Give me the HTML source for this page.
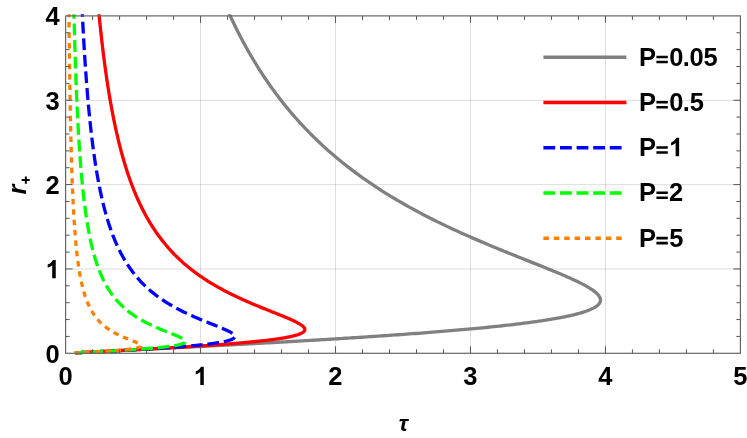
<!DOCTYPE html><html><head><meta charset="utf-8"><style>html,body{margin:0;padding:0;background:#fff}svg{display:block;will-change:transform;opacity:0.999}text{font-family:"Liberation Sans",sans-serif;font-weight:bold;fill:#000}</style></head><body>
<svg width="747" height="438" viewBox="0 0 747 438">
<rect width="747" height="438" fill="#fff"/>
<path d="M200.56 15.90 V353.30 M335.52 15.90 V353.30 M470.48 15.90 V353.30 M605.44 15.90 V353.30" stroke="#000" stroke-opacity="0.135" stroke-width="1" fill="none"/>
<path d="M65.60 268.95 H740.40 M65.60 184.60 H740.40 M65.60 100.40 H740.40" stroke="#000" stroke-opacity="0.135" stroke-width="1" fill="none"/>
<defs><clipPath id="c"><rect x="65.60" y="14.20" width="674.80" height="340.80"/></clipPath></defs>
<g clip-path="url(#c)" fill="none" stroke-width="3.3" stroke-linejoin="round">
<path d="M74.93 352.84 L75.03 352.83 L75.13 352.83 L75.24 352.82 L75.35 352.82 L75.45 352.81 L75.56 352.80 L75.67 352.80 L75.79 352.79 L75.90 352.79 L76.01 352.78 L76.13 352.78 L76.24 352.77 L76.36 352.76 L76.48 352.76 L76.60 352.75 L76.72 352.75 L76.85 352.74 L76.97 352.73 L77.10 352.73 L77.22 352.72 L77.35 352.72 L77.48 352.71 L77.61 352.70 L77.75 352.70 L77.88 352.69 L78.02 352.68 L78.15 352.68 L78.29 352.67 L78.43 352.66 L78.58 352.65 L78.72 352.65 L78.86 352.64 L79.01 352.63 L79.16 352.63 L79.31 352.62 L79.46 352.61 L79.61 352.60 L79.77 352.60 L79.93 352.59 L80.08 352.58 L80.24 352.57 L80.41 352.56 L80.57 352.56 L80.74 352.55 L80.90 352.54 L81.07 352.53 L81.24 352.52 L81.42 352.51 L81.59 352.50 L81.77 352.50 L81.95 352.49 L82.13 352.48 L82.31 352.47 L82.50 352.46 L82.68 352.45 L82.87 352.44 L83.06 352.43 L83.26 352.42 L83.45 352.41 L83.65 352.40 L83.85 352.39 L84.05 352.38 L84.26 352.37 L84.46 352.36 L84.67 352.35 L84.88 352.34 L85.09 352.33 L85.31 352.32 L85.53 352.31 L85.75 352.30 L85.97 352.29 L86.20 352.28 L86.42 352.26 L86.65 352.25 L86.89 352.24 L87.12 352.23 L87.36 352.22 L87.60 352.21 L87.84 352.19 L88.09 352.18 L88.34 352.17 L88.59 352.16 L88.85 352.14 L89.10 352.13 L89.36 352.12 L89.62 352.10 L89.89 352.09 L90.16 352.08 L90.43 352.06 L90.71 352.05 L90.98 352.04 L91.26 352.02 L91.55 352.01 L91.83 351.99 L92.12 351.98 L92.42 351.97 L92.71 351.95 L93.01 351.94 L93.32 351.92 L93.62 351.91 L93.93 351.89 L94.25 351.87 L94.56 351.86 L94.88 351.84 L95.21 351.83 L95.53 351.81 L95.86 351.79 L96.20 351.78 L96.54 351.76 L96.88 351.74 L97.22 351.73 L97.57 351.71 L97.93 351.69 L98.28 351.67 L98.64 351.65 L99.01 351.64 L99.38 351.62 L99.75 351.60 L100.13 351.58 L100.51 351.56 L100.90 351.54 L101.29 351.52 L101.68 351.50 L102.08 351.48 L102.48 351.46 L102.89 351.44 L103.30 351.42 L103.72 351.40 L104.14 351.38 L104.56 351.36 L104.99 351.34 L105.43 351.32 L105.87 351.29 L106.31 351.27 L106.76 351.25 L107.21 351.23 L107.67 351.20 L108.14 351.18 L108.61 351.16 L109.08 351.13 L109.56 351.11 L110.05 351.09 L110.54 351.06 L111.03 351.04 L111.53 351.01 L112.04 350.99 L112.55 350.96 L113.07 350.93 L113.59 350.91 L114.12 350.88 L114.65 350.86 L115.20 350.83 L115.74 350.80 L116.29 350.77 L116.85 350.75 L117.42 350.72 L117.99 350.69 L118.57 350.66 L119.15 350.63 L119.74 350.60 L120.33 350.57 L120.94 350.54 L121.55 350.51 L122.16 350.48 L122.78 350.45 L123.41 350.42 L124.05 350.38 L124.69 350.35 L125.34 350.32 L126.00 350.29 L126.66 350.25 L127.33 350.22 L128.01 350.19 L128.70 350.15 L129.39 350.12 L130.09 350.08 L130.80 350.04 L131.52 350.01 L132.24 349.97 L132.97 349.94 L133.71 349.90 L134.46 349.86 L135.22 349.82 L135.98 349.78 L136.75 349.75 L137.53 349.71 L138.32 349.67 L139.12 349.63 L139.93 349.59 L140.74 349.54 L141.56 349.50 L142.40 349.46 L143.24 349.42 L144.09 349.38 L144.95 349.33 L145.81 349.29 L146.69 349.24 L147.58 349.20 L148.47 349.15 L149.38 349.11 L150.30 349.06 L151.22 349.01 L152.16 348.97 L153.10 348.92 L154.06 348.87 L155.02 348.82 L156.00 348.77 L156.98 348.72 L157.98 348.67 L158.99 348.62 L160.00 348.57 L161.03 348.52 L162.07 348.46 L163.12 348.41 L164.18 348.35 L165.25 348.30 L166.34 348.24 L167.43 348.19 L168.54 348.13 L169.66 348.07 L170.79 348.02 L171.93 347.96 L173.08 347.90 L174.24 347.84 L175.42 347.78 L176.61 347.72 L177.81 347.66 L179.03 347.59 L180.25 347.53 L181.49 347.47 L182.74 347.40 L184.01 347.34 L185.29 347.27 L186.58 347.20 L187.88 347.14 L189.20 347.07 L190.53 347.00 L191.87 346.93 L193.23 346.86 L194.60 346.79 L195.98 346.72 L197.38 346.64 L198.80 346.57 L200.22 346.49 L201.66 346.42 L203.12 346.34 L204.59 346.27 L206.07 346.19 L207.57 346.11 L209.09 346.03 L210.62 345.95 L212.16 345.87 L213.72 345.79 L215.29 345.70 L216.88 345.62 L218.49 345.53 L220.11 345.45 L221.74 345.36 L223.40 345.27 L225.06 345.18 L226.75 345.09 L228.45 345.00 L230.16 344.91 L231.89 344.82 L233.64 344.73 L235.40 344.63 L237.19 344.53 L238.98 344.44 L240.80 344.34 L242.63 344.24 L244.47 344.14 L246.34 344.04 L248.22 343.94 L250.12 343.83 L252.03 343.73 L253.96 343.62 L255.91 343.51 L257.88 343.41 L259.86 343.30 L261.86 343.19 L263.88 343.07 L265.92 342.96 L267.97 342.85 L270.04 342.73 L272.13 342.61 L274.23 342.50 L276.36 342.38 L278.50 342.25 L280.66 342.13 L282.83 342.01 L285.03 341.88 L287.24 341.76 L289.47 341.63 L291.71 341.50 L293.98 341.37 L296.26 341.24 L298.56 341.10 L300.88 340.97 L303.21 340.83 L305.56 340.70 L307.93 340.56 L310.32 340.41 L312.72 340.27 L315.14 340.13 L317.58 339.98 L320.04 339.83 L322.51 339.69 L325.00 339.54 L327.50 339.38 L330.02 339.23 L332.56 339.07 L335.12 338.92 L337.69 338.76 L340.27 338.60 L342.88 338.43 L345.49 338.27 L348.13 338.10 L350.77 337.93 L353.44 337.76 L356.12 337.59 L358.81 337.42 L361.51 337.24 L364.23 337.06 L366.97 336.88 L369.72 336.70 L372.48 336.52 L375.25 336.33 L378.03 336.15 L380.83 335.96 L383.64 335.76 L386.46 335.57 L389.29 335.37 L392.13 335.17 L394.98 334.97 L397.85 334.77 L400.72 334.57 L403.60 334.36 L406.48 334.15 L409.38 333.94 L412.28 333.72 L415.19 333.51 L418.11 333.29 L421.03 333.07 L423.95 332.84 L426.88 332.62 L429.82 332.39 L432.75 332.16 L435.69 331.92 L438.64 331.68 L441.58 331.45 L444.52 331.20 L447.47 330.96 L450.41 330.71 L453.35 330.46 L456.29 330.21 L459.22 329.95 L462.16 329.69 L465.08 329.43 L468.00 329.17 L470.92 328.90 L473.83 328.63 L476.72 328.36 L479.62 328.08 L482.50 327.80 L485.36 327.52 L488.22 327.24 L491.07 326.95 L493.90 326.66 L496.71 326.36 L499.52 326.06 L502.30 325.76 L505.07 325.46 L507.81 325.15 L510.54 324.84 L513.25 324.52 L515.94 324.20 L518.60 323.88 L521.24 323.56 L523.85 323.23 L526.44 322.89 L529.00 322.56 L531.54 322.22 L534.04 321.87 L536.51 321.53 L538.96 321.17 L541.37 320.82 L543.74 320.46 L546.08 320.10 L548.39 319.73 L550.66 319.36 L552.89 318.98 L555.08 318.60 L557.23 318.22 L559.35 317.83 L561.41 317.44 L563.44 317.04 L565.42 316.64 L567.36 316.23 L569.25 315.82 L571.09 315.41 L572.89 314.99 L574.63 314.56 L576.33 314.14 L577.97 313.70 L579.57 313.26 L581.11 312.82 L582.59 312.37 L584.03 311.92 L585.40 311.46 L586.72 311.00 L587.99 310.53 L589.20 310.06 L590.34 309.58 L591.43 309.09 L592.47 308.60 L593.44 308.11 L594.35 307.61 L595.20 307.10 L595.98 306.59 L596.71 306.08 L597.37 305.55 L597.97 305.02 L598.51 304.49 L598.98 303.95 L599.39 303.40 L599.73 302.85 L600.01 302.29 L600.23 301.73 L600.38 301.16 L600.47 300.58 L600.49 300.00 L600.45 299.41 L600.34 298.81 L600.17 298.21 L599.93 297.60 L599.63 296.98 L599.26 296.36 L598.83 295.73 L598.34 295.09 L597.78 294.45 L597.16 293.80 L596.48 293.14 L595.73 292.47 L594.93 291.80 L594.06 291.12 L593.13 290.43 L592.14 289.73 L591.09 289.03 L589.98 288.32 L588.81 287.60 L587.58 286.87 L586.30 286.14 L584.96 285.39 L583.56 284.64 L582.11 283.88 L580.61 283.11 L579.05 282.34 L577.44 281.55 L575.78 280.76 L574.07 279.95 L572.31 279.14 L570.50 278.32 L568.64 277.49 L566.73 276.65 L564.78 275.80 L562.78 274.95 L560.74 274.08 L558.66 273.20 L556.54 272.32 L554.37 271.42 L552.17 270.51 L549.92 269.60 L547.64 268.67 L545.32 267.73 L542.97 266.79 L540.58 265.83 L538.16 264.86 L535.71 263.88 L533.23 262.89 L530.71 261.89 L528.17 260.88 L525.60 259.86 L523.00 258.82 L520.38 257.78 L517.73 256.72 L515.06 255.65 L512.37 254.57 L509.65 253.48 L506.92 252.37 L504.17 251.26 L501.39 250.13 L498.60 248.99 L495.80 247.83 L492.98 246.66 L490.14 245.48 L487.29 244.29 L484.43 243.08 L481.56 241.86 L478.67 240.63 L475.78 239.38 L472.88 238.12 L469.97 236.85 L467.05 235.56 L464.13 234.26 L461.20 232.94 L458.27 231.61 L455.33 230.26 L452.39 228.90 L449.45 227.52 L446.51 226.13 L443.56 224.72 L440.62 223.30 L437.68 221.86 L434.73 220.41 L431.80 218.93 L428.86 217.45 L425.93 215.94 L423.00 214.42 L420.07 212.89 L417.15 211.33 L414.24 209.76 L411.33 208.17 L408.43 206.57 L405.54 204.94 L402.65 203.30 L399.78 201.64 L396.91 199.96 L394.05 198.26 L391.20 196.55 L388.37 194.81 L385.54 193.06 L382.72 191.29 L379.92 189.49 L377.12 187.68 L374.34 185.85 L371.57 183.99 L368.82 182.12 L366.07 180.23 L363.35 178.31 L360.63 176.37 L357.93 174.41 L355.24 172.43 L352.57 170.43 L349.91 168.41 L347.27 166.36 L344.64 164.29 L342.03 162.20 L339.43 160.09 L336.85 157.95 L334.28 155.79 L331.73 153.60 L329.20 151.39 L326.68 149.16 L324.18 146.90 L321.70 144.61 L319.23 142.30 L316.78 139.97 L314.35 137.61 L311.94 135.22 L309.54 132.80 L307.16 130.36 L304.79 127.90 L302.45 125.40 L300.12 122.88 L297.81 120.33 L295.51 117.75 L293.24 115.14 L290.98 112.51 L288.74 109.84 L286.52 107.15 L284.31 104.42 L282.12 101.67 L279.95 98.88 L277.80 96.07 L275.66 93.22 L273.55 90.34 L271.45 87.43 L269.36 84.49 L267.30 81.52 L265.25 78.51 L263.22 75.47 L261.21 72.39 L259.21 69.28 L257.23 66.14 L255.27 62.96 L253.33 59.75 L251.40 56.50 L249.49 53.21 L247.60 49.89 L245.73 46.53 L243.87 43.14 L242.03 39.71 L240.20 36.23 L238.39 32.73 L236.60 29.18 L234.83 25.59 L233.07 21.96 L231.33 18.30 L229.60 14.59 L227.89 10.84" stroke="#808080"/>
<path d="M74.92 352.84 L75.03 352.83 L75.13 352.83 L75.24 352.82 L75.34 352.82 L75.45 352.81 L75.56 352.80 L75.67 352.80 L75.78 352.79 L75.89 352.79 L76.01 352.78 L76.12 352.78 L76.24 352.77 L76.36 352.76 L76.48 352.76 L76.60 352.75 L76.72 352.75 L76.84 352.74 L76.97 352.73 L77.09 352.73 L77.22 352.72 L77.35 352.72 L77.48 352.71 L77.61 352.70 L77.74 352.70 L77.87 352.69 L78.01 352.68 L78.15 352.68 L78.29 352.67 L78.43 352.66 L78.57 352.65 L78.71 352.65 L78.86 352.64 L79.00 352.63 L79.15 352.63 L79.30 352.62 L79.45 352.61 L79.60 352.60 L79.76 352.60 L79.92 352.59 L80.07 352.58 L80.23 352.57 L80.40 352.56 L80.56 352.56 L80.72 352.55 L80.89 352.54 L81.06 352.53 L81.23 352.52 L81.40 352.51 L81.58 352.50 L81.75 352.50 L81.93 352.49 L82.11 352.48 L82.30 352.47 L82.48 352.46 L82.67 352.45 L82.85 352.44 L83.05 352.43 L83.24 352.42 L83.43 352.41 L83.63 352.40 L83.83 352.39 L84.03 352.38 L84.23 352.37 L84.44 352.36 L84.65 352.35 L84.86 352.34 L85.07 352.33 L85.28 352.32 L85.50 352.31 L85.72 352.30 L85.94 352.29 L86.17 352.28 L86.39 352.26 L86.62 352.25 L86.85 352.24 L87.09 352.23 L87.33 352.22 L87.56 352.21 L87.81 352.19 L88.05 352.18 L88.30 352.17 L88.55 352.16 L88.80 352.14 L89.06 352.13 L89.32 352.12 L89.58 352.10 L89.84 352.09 L90.11 352.08 L90.38 352.06 L90.65 352.05 L90.93 352.04 L91.20 352.02 L91.49 352.01 L91.77 351.99 L92.06 351.98 L92.35 351.97 L92.64 351.95 L92.94 351.94 L93.24 351.92 L93.55 351.91 L93.85 351.89 L94.16 351.87 L94.48 351.86 L94.79 351.84 L95.12 351.83 L95.44 351.81 L95.77 351.79 L96.10 351.78 L96.43 351.76 L96.77 351.74 L97.11 351.73 L97.46 351.71 L97.81 351.69 L98.16 351.67 L98.52 351.65 L98.88 351.64 L99.24 351.62 L99.61 351.60 L99.99 351.58 L100.36 351.56 L100.74 351.54 L101.13 351.52 L101.52 351.50 L101.91 351.48 L102.31 351.46 L102.71 351.44 L103.11 351.42 L103.52 351.40 L103.94 351.38 L104.36 351.36 L104.78 351.34 L105.21 351.32 L105.64 351.29 L106.08 351.27 L106.52 351.25 L106.96 351.23 L107.41 351.20 L107.87 351.18 L108.33 351.16 L108.79 351.13 L109.26 351.11 L109.74 351.09 L110.22 351.06 L110.70 351.04 L111.20 351.01 L111.69 350.99 L112.19 350.96 L112.70 350.93 L113.21 350.91 L113.72 350.88 L114.24 350.86 L114.77 350.83 L115.30 350.80 L115.84 350.77 L116.39 350.75 L116.93 350.72 L117.49 350.69 L118.05 350.66 L118.62 350.63 L119.19 350.60 L119.77 350.57 L120.35 350.54 L120.94 350.51 L121.53 350.48 L122.14 350.45 L122.74 350.42 L123.36 350.38 L123.98 350.35 L124.60 350.32 L125.24 350.29 L125.88 350.25 L126.52 350.22 L127.17 350.19 L127.83 350.15 L128.50 350.12 L129.17 350.08 L129.84 350.04 L130.53 350.01 L131.22 349.97 L131.92 349.94 L132.62 349.90 L133.33 349.86 L134.05 349.82 L134.78 349.78 L135.51 349.75 L136.25 349.71 L137.00 349.67 L137.75 349.63 L138.51 349.59 L139.28 349.54 L140.05 349.50 L140.84 349.46 L141.63 349.42 L142.42 349.38 L143.23 349.33 L144.04 349.29 L144.86 349.24 L145.69 349.20 L146.52 349.15 L147.36 349.11 L148.21 349.06 L149.07 349.01 L149.93 348.97 L150.81 348.92 L151.69 348.87 L152.57 348.82 L153.47 348.77 L154.37 348.72 L155.28 348.67 L156.20 348.62 L157.13 348.57 L158.07 348.52 L159.01 348.46 L159.96 348.41 L160.92 348.35 L161.88 348.30 L162.86 348.24 L163.84 348.19 L164.83 348.13 L165.83 348.07 L166.83 348.02 L167.85 347.96 L168.87 347.90 L169.90 347.84 L170.93 347.78 L171.98 347.72 L173.03 347.66 L174.09 347.59 L175.16 347.53 L176.24 347.47 L177.32 347.40 L178.41 347.34 L179.51 347.27 L180.62 347.20 L181.73 347.14 L182.85 347.07 L183.98 347.00 L185.11 346.93 L186.26 346.86 L187.41 346.79 L188.57 346.72 L189.73 346.64 L190.90 346.57 L192.08 346.49 L193.26 346.42 L194.46 346.34 L195.65 346.27 L196.86 346.19 L198.07 346.11 L199.29 346.03 L200.51 345.95 L201.74 345.87 L202.97 345.79 L204.22 345.70 L205.46 345.62 L206.71 345.53 L207.97 345.45 L209.23 345.36 L210.50 345.27 L211.77 345.18 L213.05 345.09 L214.33 345.00 L215.61 344.91 L216.90 344.82 L218.19 344.73 L219.48 344.63 L220.78 344.53 L222.08 344.44 L223.39 344.34 L224.69 344.24 L226.00 344.14 L227.31 344.04 L228.63 343.94 L229.94 343.83 L231.26 343.73 L232.57 343.62 L233.89 343.51 L235.20 343.41 L236.52 343.30 L237.84 343.19 L239.15 343.07 L240.47 342.96 L241.78 342.85 L243.09 342.73 L244.40 342.61 L245.70 342.50 L247.01 342.38 L248.31 342.25 L249.60 342.13 L250.89 342.01 L252.18 341.88 L253.47 341.76 L254.74 341.63 L256.01 341.50 L257.28 341.37 L258.54 341.24 L259.79 341.10 L261.03 340.97 L262.27 340.83 L263.50 340.70 L264.72 340.56 L265.93 340.41 L267.13 340.27 L268.32 340.13 L269.50 339.98 L270.66 339.83 L271.82 339.69 L272.97 339.54 L274.10 339.38 L275.22 339.23 L276.32 339.07 L277.41 338.92 L278.49 338.76 L279.55 338.60 L280.59 338.43 L281.62 338.27 L282.64 338.10 L283.63 337.93 L284.61 337.76 L285.57 337.59 L286.51 337.42 L287.44 337.24 L288.34 337.06 L289.22 336.88 L290.09 336.70 L290.93 336.52 L291.75 336.33 L292.55 336.15 L293.33 335.96 L294.09 335.76 L294.82 335.57 L295.53 335.37 L296.22 335.17 L296.88 334.97 L297.52 334.77 L298.13 334.57 L298.72 334.36 L299.28 334.15 L299.82 333.94 L300.33 333.72 L300.81 333.51 L301.27 333.29 L301.70 333.07 L302.11 332.84 L302.48 332.62 L302.83 332.39 L303.15 332.16 L303.45 331.92 L303.71 331.68 L303.95 331.45 L304.16 331.20 L304.34 330.96 L304.49 330.71 L304.61 330.46 L304.70 330.21 L304.77 329.95 L304.80 329.69 L304.81 329.43 L304.79 329.17 L304.74 328.90 L304.66 328.63 L304.55 328.36 L304.41 328.08 L304.24 327.80 L304.05 327.52 L303.82 327.24 L303.57 326.95 L303.29 326.66 L302.98 326.36 L302.64 326.06 L302.28 325.76 L301.89 325.46 L301.47 325.15 L301.02 324.84 L300.55 324.52 L300.05 324.20 L299.53 323.88 L298.98 323.56 L298.40 323.23 L297.80 322.89 L297.17 322.56 L296.52 322.22 L295.84 321.87 L295.14 321.53 L294.42 321.17 L293.68 320.82 L292.91 320.46 L292.12 320.10 L291.31 319.73 L290.47 319.36 L289.62 318.98 L288.74 318.60 L287.85 318.22 L286.93 317.83 L286.00 317.44 L285.05 317.04 L284.08 316.64 L283.09 316.23 L282.08 315.82 L281.06 315.41 L280.02 314.99 L278.97 314.56 L277.90 314.14 L276.82 313.70 L275.72 313.26 L274.61 312.82 L273.48 312.37 L272.34 311.92 L271.19 311.46 L270.03 311.00 L268.85 310.53 L267.67 310.06 L266.47 309.58 L265.27 309.09 L264.05 308.60 L262.83 308.11 L261.60 307.61 L260.36 307.10 L259.11 306.59 L257.85 306.08 L256.59 305.55 L255.32 305.02 L254.05 304.49 L252.77 303.95 L251.48 303.40 L250.19 302.85 L248.90 302.29 L247.60 301.73 L246.30 301.16 L244.99 300.58 L243.68 300.00 L242.37 299.41 L241.06 298.81 L239.75 298.21 L238.43 297.60 L237.12 296.98 L235.80 296.36 L234.49 295.73 L233.17 295.09 L231.85 294.45 L230.54 293.80 L229.22 293.14 L227.91 292.47 L226.60 291.80 L225.29 291.12 L223.98 290.43 L222.68 289.73 L221.37 289.03 L220.07 288.32 L218.78 287.60 L217.48 286.87 L216.19 286.14 L214.91 285.39 L213.63 284.64 L212.35 283.88 L211.07 283.11 L209.81 282.34 L208.54 281.55 L207.28 280.76 L206.03 279.95 L204.78 279.14 L203.54 278.32 L202.30 277.49 L201.07 276.65 L199.84 275.80 L198.62 274.95 L197.41 274.08 L196.20 273.20 L195.00 272.32 L193.80 271.42 L192.62 270.51 L191.44 269.60 L190.26 268.67 L189.09 267.73 L187.93 266.79 L186.78 265.83 L185.63 264.86 L184.49 263.88 L183.36 262.89 L182.24 261.89 L181.12 260.88 L180.01 259.86 L178.91 258.82 L177.81 257.78 L176.73 256.72 L175.65 255.65 L174.58 254.57 L173.51 253.48 L172.46 252.37 L171.41 251.26 L170.37 250.13 L169.33 248.99 L168.31 247.83 L167.29 246.66 L166.28 245.48 L165.28 244.29 L164.29 243.08 L163.30 241.86 L162.32 240.63 L161.35 239.38 L160.39 238.12 L159.44 236.85 L158.49 235.56 L157.55 234.26 L156.62 232.94 L155.70 231.61 L154.79 230.26 L153.88 228.90 L152.98 227.52 L152.09 226.13 L151.20 224.72 L150.33 223.30 L149.46 221.86 L148.60 220.41 L147.75 218.93 L146.90 217.45 L146.06 215.94 L145.23 214.42 L144.41 212.89 L143.60 211.33 L142.79 209.76 L141.99 208.17 L141.19 206.57 L140.41 204.94 L139.63 203.30 L138.86 201.64 L138.09 199.96 L137.34 198.26 L136.59 196.55 L135.85 194.81 L135.11 193.06 L134.38 191.29 L133.66 189.49 L132.94 187.68 L132.24 185.85 L131.54 183.99 L130.84 182.12 L130.15 180.23 L129.47 178.31 L128.80 176.37 L128.13 174.41 L127.47 172.43 L126.82 170.43 L126.17 168.41 L125.53 166.36 L124.89 164.29 L124.26 162.20 L123.64 160.09 L123.02 157.95 L122.41 155.79 L121.81 153.60 L121.21 151.39 L120.62 149.16 L120.03 146.90 L119.45 144.61 L118.87 142.30 L118.31 139.97 L117.74 137.61 L117.19 135.22 L116.63 132.80 L116.09 130.36 L115.55 127.90 L115.01 125.40 L114.48 122.88 L113.96 120.33 L113.44 117.75 L112.93 115.14 L112.42 112.51 L111.92 109.84 L111.42 107.15 L110.93 104.42 L110.44 101.67 L109.96 98.88 L109.48 96.07 L109.01 93.22 L108.54 90.34 L108.08 87.43 L107.62 84.49 L107.17 81.52 L106.72 78.51 L106.28 75.47 L105.84 72.39 L105.40 69.28 L104.97 66.14 L104.55 62.96 L104.13 59.75 L103.71 56.50 L103.30 53.21 L102.89 49.89 L102.49 46.53 L102.09 43.14 L101.69 39.71 L101.30 36.23 L100.92 32.73 L100.53 29.18 L100.16 25.59 L99.78 21.96 L99.41 18.30 L99.04 14.59 L98.68 10.84" stroke="#ff0000"/>
<path d="M74.92 352.84 L75.02 352.83 L75.13 352.83 L75.23 352.82 L75.34 352.82 L75.45 352.81 L75.56 352.80 L75.67 352.80 L75.78 352.79 L75.89 352.79 L76.00 352.78 L76.12 352.78 L76.23 352.77 L76.35 352.76 L76.47 352.76 L76.59 352.75 L76.71 352.75 L76.83 352.74 L76.96 352.73 L77.08 352.73 L77.21 352.72 L77.34 352.72 L77.47 352.71 L77.60 352.70 L77.73 352.70 L77.87 352.69 L78.00 352.68 L78.14 352.68 L78.28 352.67 L78.42 352.66 L78.56 352.65 L78.70 352.65 L78.85 352.64 L78.99 352.63 L79.14 352.63 L79.29 352.62 L79.44 352.61 L79.59 352.60 L79.75 352.60 L79.90 352.59 L80.06 352.58 L80.22 352.57 L80.38 352.56 L80.54 352.56 L80.71 352.55 L80.88 352.54 L81.04 352.53 L81.21 352.52 L81.39 352.51 L81.56 352.50 L81.74 352.50 L81.91 352.49 L82.09 352.48 L82.28 352.47 L82.46 352.46 L82.64 352.45 L82.83 352.44 L83.02 352.43 L83.21 352.42 L83.41 352.41 L83.60 352.40 L83.80 352.39 L84.00 352.38 L84.20 352.37 L84.41 352.36 L84.62 352.35 L84.82 352.34 L85.04 352.33 L85.25 352.32 L85.47 352.31 L85.68 352.30 L85.91 352.29 L86.13 352.28 L86.35 352.26 L86.58 352.25 L86.81 352.24 L87.04 352.23 L87.28 352.22 L87.52 352.21 L87.76 352.19 L88.00 352.18 L88.25 352.17 L88.50 352.16 L88.75 352.14 L89.00 352.13 L89.26 352.12 L89.52 352.10 L89.78 352.09 L90.04 352.08 L90.31 352.06 L90.58 352.05 L90.85 352.04 L91.13 352.02 L91.41 352.01 L91.69 351.99 L91.98 351.98 L92.27 351.97 L92.56 351.95 L92.85 351.94 L93.15 351.92 L93.45 351.91 L93.75 351.89 L94.06 351.87 L94.37 351.86 L94.69 351.84 L95.00 351.83 L95.32 351.81 L95.65 351.79 L95.97 351.78 L96.30 351.76 L96.64 351.74 L96.98 351.73 L97.32 351.71 L97.66 351.69 L98.01 351.67 L98.36 351.65 L98.72 351.64 L99.08 351.62 L99.44 351.60 L99.81 351.58 L100.18 351.56 L100.55 351.54 L100.93 351.52 L101.31 351.50 L101.70 351.48 L102.09 351.46 L102.48 351.44 L102.88 351.42 L103.28 351.40 L103.69 351.38 L104.10 351.36 L104.52 351.34 L104.94 351.32 L105.36 351.29 L105.79 351.27 L106.22 351.25 L106.65 351.23 L107.09 351.20 L107.54 351.18 L107.99 351.16 L108.44 351.13 L108.90 351.11 L109.36 351.09 L109.83 351.06 L110.30 351.04 L110.78 351.01 L111.26 350.99 L111.75 350.96 L112.24 350.93 L112.74 350.91 L113.24 350.88 L113.74 350.86 L114.25 350.83 L114.77 350.80 L115.29 350.77 L115.81 350.75 L116.34 350.72 L116.88 350.69 L117.42 350.66 L117.96 350.63 L118.52 350.60 L119.07 350.57 L119.63 350.54 L120.20 350.51 L120.77 350.48 L121.35 350.45 L121.93 350.42 L122.52 350.38 L123.11 350.35 L123.71 350.32 L124.31 350.29 L124.92 350.25 L125.53 350.22 L126.15 350.19 L126.78 350.15 L127.41 350.12 L128.04 350.08 L128.69 350.04 L129.33 350.01 L129.98 349.97 L130.64 349.94 L131.31 349.90 L131.98 349.86 L132.65 349.82 L133.33 349.78 L134.02 349.75 L134.71 349.71 L135.41 349.67 L136.11 349.63 L136.82 349.59 L137.53 349.54 L138.25 349.50 L138.97 349.46 L139.70 349.42 L140.44 349.38 L141.18 349.33 L141.93 349.29 L142.68 349.24 L143.44 349.20 L144.20 349.15 L144.97 349.11 L145.75 349.06 L146.53 349.01 L147.31 348.97 L148.10 348.92 L148.90 348.87 L149.70 348.82 L150.50 348.77 L151.31 348.72 L152.13 348.67 L152.95 348.62 L153.78 348.57 L154.61 348.52 L155.44 348.46 L156.28 348.41 L157.13 348.35 L157.98 348.30 L158.83 348.24 L159.69 348.19 L160.55 348.13 L161.42 348.07 L162.29 348.02 L163.17 347.96 L164.04 347.90 L164.93 347.84 L165.81 347.78 L166.70 347.72 L167.60 347.66 L168.50 347.59 L169.40 347.53 L170.30 347.47 L171.21 347.40 L172.12 347.34 L173.03 347.27 L173.94 347.20 L174.86 347.14 L175.78 347.07 L176.70 347.00 L177.62 346.93 L178.55 346.86 L179.47 346.79 L180.40 346.72 L181.33 346.64 L182.26 346.57 L183.19 346.49 L184.12 346.42 L185.05 346.34 L185.98 346.27 L186.91 346.19 L187.84 346.11 L188.77 346.03 L189.70 345.95 L190.63 345.87 L191.55 345.79 L192.48 345.70 L193.40 345.62 L194.32 345.53 L195.24 345.45 L196.15 345.36 L197.07 345.27 L197.98 345.18 L198.88 345.09 L199.78 345.00 L200.68 344.91 L201.57 344.82 L202.46 344.73 L203.34 344.63 L204.22 344.53 L205.09 344.44 L205.96 344.34 L206.81 344.24 L207.67 344.14 L208.51 344.04 L209.35 343.94 L210.18 343.83 L211.00 343.73 L211.82 343.62 L212.62 343.51 L213.42 343.41 L214.20 343.30 L214.98 343.19 L215.74 343.07 L216.50 342.96 L217.24 342.85 L217.98 342.73 L218.70 342.61 L219.41 342.50 L220.11 342.38 L220.80 342.25 L221.47 342.13 L222.13 342.01 L222.77 341.88 L223.41 341.76 L224.02 341.63 L224.63 341.50 L225.22 341.37 L225.79 341.24 L226.35 341.10 L226.89 340.97 L227.42 340.83 L227.93 340.70 L228.42 340.56 L228.90 340.41 L229.36 340.27 L229.80 340.13 L230.23 339.98 L230.63 339.83 L231.02 339.69 L231.39 339.54 L231.75 339.38 L232.08 339.23 L232.39 339.07 L232.69 338.92 L232.97 338.76 L233.22 338.60 L233.46 338.43 L233.68 338.27 L233.88 338.10 L234.05 337.93 L234.21 337.76 L234.35 337.59 L234.47 337.42 L234.56 337.24 L234.64 337.06 L234.70 336.88 L234.73 336.70 L234.75 336.52 L234.74 336.33 L234.72 336.15 L234.67 335.96 L234.60 335.76 L234.52 335.57 L234.41 335.37 L234.28 335.17 L234.13 334.97 L233.96 334.77 L233.78 334.57 L233.57 334.36 L233.34 334.15 L233.09 333.94 L232.83 333.72 L232.54 333.51 L232.23 333.29 L231.91 333.07 L231.57 332.84 L231.20 332.62 L230.82 332.39 L230.43 332.16 L230.01 331.92 L229.57 331.68 L229.12 331.45 L228.65 331.20 L228.17 330.96 L227.67 330.71 L227.15 330.46 L226.61 330.21 L226.06 329.95 L225.49 329.69 L224.91 329.43 L224.32 329.17 L223.71 328.90 L223.08 328.63 L222.44 328.36 L221.79 328.08 L221.12 327.80 L220.44 327.52 L219.75 327.24 L219.04 326.95 L218.33 326.66 L217.60 326.36 L216.86 326.06 L216.11 325.76 L215.35 325.46 L214.58 325.15 L213.79 324.84 L213.00 324.52 L212.20 324.20 L211.39 323.88 L210.58 323.56 L209.75 323.23 L208.92 322.89 L208.07 322.56 L207.23 322.22 L206.37 321.87 L205.51 321.53 L204.64 321.17 L203.76 320.82 L202.88 320.46 L202.00 320.10 L201.11 319.73 L200.21 319.36 L199.31 318.98 L198.41 318.60 L197.50 318.22 L196.59 317.83 L195.68 317.44 L194.76 317.04 L193.84 316.64 L192.92 316.23 L192.00 315.82 L191.07 315.41 L190.15 314.99 L189.22 314.56 L188.29 314.14 L187.36 313.70 L186.43 313.26 L185.50 312.82 L184.57 312.37 L183.64 311.92 L182.71 311.46 L181.78 311.00 L180.85 310.53 L179.92 310.06 L178.99 309.58 L178.07 309.09 L177.14 308.60 L176.22 308.11 L175.30 307.61 L174.38 307.10 L173.47 306.59 L172.55 306.08 L171.64 305.55 L170.74 305.02 L169.83 304.49 L168.93 303.95 L168.03 303.40 L167.13 302.85 L166.24 302.29 L165.35 301.73 L164.47 301.16 L163.59 300.58 L162.71 300.00 L161.84 299.41 L160.97 298.81 L160.10 298.21 L159.24 297.60 L158.39 296.98 L157.53 296.36 L156.69 295.73 L155.85 295.09 L155.01 294.45 L154.17 293.80 L153.35 293.14 L152.52 292.47 L151.70 291.80 L150.89 291.12 L150.08 290.43 L149.28 289.73 L148.48 289.03 L147.69 288.32 L146.90 287.60 L146.12 286.87 L145.34 286.14 L144.57 285.39 L143.81 284.64 L143.05 283.88 L142.29 283.11 L141.54 282.34 L140.80 281.55 L140.06 280.76 L139.32 279.95 L138.60 279.14 L137.88 278.32 L137.16 277.49 L136.45 276.65 L135.74 275.80 L135.04 274.95 L134.35 274.08 L133.66 273.20 L132.98 272.32 L132.30 271.42 L131.63 270.51 L130.96 269.60 L130.30 268.67 L129.65 267.73 L129.00 266.79 L128.35 265.83 L127.71 264.86 L127.08 263.88 L126.45 262.89 L125.83 261.89 L125.21 260.88 L124.60 259.86 L124.00 258.82 L123.40 257.78 L122.80 256.72 L122.21 255.65 L121.63 254.57 L121.05 253.48 L120.47 252.37 L119.90 251.26 L119.34 250.13 L118.78 248.99 L118.23 247.83 L117.68 246.66 L117.14 245.48 L116.60 244.29 L116.07 243.08 L115.54 241.86 L115.02 240.63 L114.50 239.38 L113.99 238.12 L113.48 236.85 L112.98 235.56 L112.48 234.26 L111.98 232.94 L111.50 231.61 L111.01 230.26 L110.53 228.90 L110.06 227.52 L109.59 226.13 L109.12 224.72 L108.66 223.30 L108.21 221.86 L107.75 220.41 L107.31 218.93 L106.86 217.45 L106.43 215.94 L105.99 214.42 L105.56 212.89 L105.14 211.33 L104.72 209.76 L104.30 208.17 L103.89 206.57 L103.48 204.94 L103.07 203.30 L102.67 201.64 L102.28 199.96 L101.89 198.26 L101.50 196.55 L101.11 194.81 L100.73 193.06 L100.36 191.29 L99.99 189.49 L99.62 187.68 L99.25 185.85 L98.89 183.99 L98.53 182.12 L98.18 180.23 L97.83 178.31 L97.48 176.37 L97.14 174.41 L96.80 172.43 L96.46 170.43 L96.13 168.41 L95.80 166.36 L95.48 164.29 L95.16 162.20 L94.84 160.09 L94.52 157.95 L94.21 155.79 L93.90 153.60 L93.60 151.39 L93.29 149.16 L92.99 146.90 L92.70 144.61 L92.41 142.30 L92.12 139.97 L91.83 137.61 L91.55 135.22 L91.26 132.80 L90.99 130.36 L90.71 127.90 L90.44 125.40 L90.17 122.88 L89.91 120.33 L89.64 117.75 L89.38 115.14 L89.12 112.51 L88.87 109.84 L88.62 107.15 L88.37 104.42 L88.12 101.67 L87.88 98.88 L87.63 96.07 L87.39 93.22 L87.16 90.34 L86.92 87.43 L86.69 84.49 L86.46 81.52 L86.24 78.51 L86.01 75.47 L85.79 72.39 L85.57 69.28 L85.35 66.14 L85.14 62.96 L84.93 59.75 L84.72 56.50 L84.51 53.21 L84.30 49.89 L84.10 46.53 L83.90 43.14 L83.70 39.71 L83.50 36.23 L83.31 32.73 L83.11 29.18 L82.92 25.59 L82.73 21.96 L82.55 18.30 L82.36 14.59 L82.18 10.84" stroke="#0000ff" stroke-dasharray="11.8 4.8"/>
<path d="M74.91 352.84 L75.02 352.83 L75.12 352.83 L75.23 352.82 L75.33 352.82 L75.44 352.81 L75.55 352.80 L75.66 352.80 L75.77 352.79 L75.88 352.79 L75.99 352.78 L76.11 352.78 L76.22 352.77 L76.34 352.76 L76.46 352.76 L76.58 352.75 L76.70 352.75 L76.82 352.74 L76.95 352.73 L77.07 352.73 L77.20 352.72 L77.33 352.72 L77.45 352.71 L77.58 352.70 L77.72 352.70 L77.85 352.69 L77.98 352.68 L78.12 352.68 L78.26 352.67 L78.40 352.66 L78.54 352.65 L78.68 352.65 L78.83 352.64 L78.97 352.63 L79.12 352.63 L79.27 352.62 L79.42 352.61 L79.57 352.60 L79.72 352.60 L79.88 352.59 L80.03 352.58 L80.19 352.57 L80.35 352.56 L80.52 352.56 L80.68 352.55 L80.84 352.54 L81.01 352.53 L81.18 352.52 L81.35 352.51 L81.52 352.50 L81.70 352.50 L81.88 352.49 L82.05 352.48 L82.23 352.47 L82.42 352.46 L82.60 352.45 L82.79 352.44 L82.98 352.43 L83.17 352.42 L83.36 352.41 L83.55 352.40 L83.75 352.39 L83.95 352.38 L84.15 352.37 L84.35 352.36 L84.56 352.35 L84.76 352.34 L84.97 352.33 L85.18 352.32 L85.40 352.31 L85.61 352.30 L85.83 352.29 L86.05 352.28 L86.28 352.26 L86.50 352.25 L86.73 352.24 L86.96 352.23 L87.19 352.22 L87.43 352.21 L87.66 352.19 L87.90 352.18 L88.15 352.17 L88.39 352.16 L88.64 352.14 L88.89 352.13 L89.14 352.12 L89.40 352.10 L89.65 352.09 L89.92 352.08 L90.18 352.06 L90.45 352.05 L90.71 352.04 L90.99 352.02 L91.26 352.01 L91.54 351.99 L91.82 351.98 L92.10 351.97 L92.39 351.95 L92.68 351.94 L92.97 351.92 L93.26 351.91 L93.56 351.89 L93.86 351.87 L94.16 351.86 L94.47 351.84 L94.78 351.83 L95.09 351.81 L95.41 351.79 L95.73 351.78 L96.05 351.76 L96.38 351.74 L96.71 351.73 L97.04 351.71 L97.37 351.69 L97.71 351.67 L98.06 351.65 L98.40 351.64 L98.75 351.62 L99.10 351.60 L99.46 351.58 L99.82 351.56 L100.18 351.54 L100.55 351.52 L100.92 351.50 L101.29 351.48 L101.66 351.46 L102.05 351.44 L102.43 351.42 L102.82 351.40 L103.21 351.38 L103.60 351.36 L104.00 351.34 L104.40 351.32 L104.81 351.29 L105.22 351.27 L105.63 351.25 L106.05 351.23 L106.47 351.20 L106.89 351.18 L107.32 351.16 L107.76 351.13 L108.19 351.11 L108.63 351.09 L109.08 351.06 L109.52 351.04 L109.97 351.01 L110.43 350.99 L110.89 350.96 L111.35 350.93 L111.82 350.91 L112.29 350.88 L112.77 350.86 L113.25 350.83 L113.73 350.80 L114.22 350.77 L114.71 350.75 L115.20 350.72 L115.70 350.69 L116.20 350.66 L116.71 350.63 L117.22 350.60 L117.73 350.57 L118.25 350.54 L118.78 350.51 L119.30 350.48 L119.83 350.45 L120.37 350.42 L120.90 350.38 L121.45 350.35 L121.99 350.32 L122.54 350.29 L123.09 350.25 L123.65 350.22 L124.21 350.19 L124.77 350.15 L125.34 350.12 L125.91 350.08 L126.49 350.04 L127.07 350.01 L127.65 349.97 L128.24 349.94 L128.82 349.90 L129.42 349.86 L130.01 349.82 L130.61 349.78 L131.21 349.75 L131.82 349.71 L132.43 349.67 L133.04 349.63 L133.65 349.59 L134.27 349.54 L134.89 349.50 L135.51 349.46 L136.14 349.42 L136.77 349.38 L137.40 349.33 L138.03 349.29 L138.67 349.24 L139.31 349.20 L139.95 349.15 L140.59 349.11 L141.23 349.06 L141.88 349.01 L142.53 348.97 L143.17 348.92 L143.82 348.87 L144.48 348.82 L145.13 348.77 L145.78 348.72 L146.44 348.67 L147.10 348.62 L147.75 348.57 L148.41 348.52 L149.07 348.46 L149.73 348.41 L150.38 348.35 L151.04 348.30 L151.70 348.24 L152.36 348.19 L153.02 348.13 L153.67 348.07 L154.33 348.02 L154.98 347.96 L155.63 347.90 L156.29 347.84 L156.94 347.78 L157.58 347.72 L158.23 347.66 L158.87 347.59 L159.52 347.53 L160.15 347.47 L160.79 347.40 L161.42 347.34 L162.05 347.27 L162.68 347.20 L163.30 347.14 L163.92 347.07 L164.53 347.00 L165.14 346.93 L165.75 346.86 L166.35 346.79 L166.94 346.72 L167.53 346.64 L168.12 346.57 L168.70 346.49 L169.27 346.42 L169.83 346.34 L170.39 346.27 L170.95 346.19 L171.49 346.11 L172.03 346.03 L172.56 345.95 L173.08 345.87 L173.60 345.79 L174.10 345.70 L174.60 345.62 L175.09 345.53 L175.57 345.45 L176.04 345.36 L176.51 345.27 L176.96 345.18 L177.40 345.09 L177.83 345.00 L178.25 344.91 L178.67 344.82 L179.07 344.73 L179.46 344.63 L179.83 344.53 L180.20 344.44 L180.56 344.34 L180.90 344.24 L181.23 344.14 L181.55 344.04 L181.86 343.94 L182.15 343.83 L182.43 343.73 L182.70 343.62 L182.96 343.51 L183.20 343.41 L183.43 343.30 L183.65 343.19 L183.85 343.07 L184.04 342.96 L184.21 342.85 L184.37 342.73 L184.52 342.61 L184.65 342.50 L184.77 342.38 L184.88 342.25 L184.97 342.13 L185.04 342.01 L185.10 341.88 L185.15 341.76 L185.18 341.63 L185.20 341.50 L185.20 341.37 L185.19 341.24 L185.17 341.10 L185.13 340.97 L185.07 340.83 L185.01 340.70 L184.92 340.56 L184.83 340.41 L184.71 340.27 L184.59 340.13 L184.45 339.98 L184.29 339.83 L184.13 339.69 L183.95 339.54 L183.75 339.38 L183.54 339.23 L183.32 339.07 L183.08 338.92 L182.83 338.76 L182.57 338.60 L182.30 338.43 L182.01 338.27 L181.71 338.10 L181.39 337.93 L181.07 337.76 L180.73 337.59 L180.38 337.42 L180.02 337.24 L179.65 337.06 L179.26 336.88 L178.87 336.70 L178.46 336.52 L178.05 336.33 L177.62 336.15 L177.18 335.96 L176.74 335.76 L176.28 335.57 L175.81 335.37 L175.34 335.17 L174.85 334.97 L174.36 334.77 L173.86 334.57 L173.34 334.36 L172.83 334.15 L172.30 333.94 L171.76 333.72 L171.22 333.51 L170.67 333.29 L170.12 333.07 L169.56 332.84 L168.99 332.62 L168.41 332.39 L167.83 332.16 L167.24 331.92 L166.65 331.68 L166.05 331.45 L165.45 331.20 L164.84 330.96 L164.23 330.71 L163.61 330.46 L162.99 330.21 L162.37 329.95 L161.74 329.69 L161.11 329.43 L160.48 329.17 L159.84 328.90 L159.20 328.63 L158.56 328.36 L157.91 328.08 L157.27 327.80 L156.62 327.52 L155.97 327.24 L155.31 326.95 L154.66 326.66 L154.00 326.36 L153.35 326.06 L152.69 325.76 L152.03 325.46 L151.38 325.15 L150.72 324.84 L150.06 324.52 L149.40 324.20 L148.74 323.88 L148.09 323.56 L147.43 323.23 L146.77 322.89 L146.12 322.56 L145.46 322.22 L144.81 321.87 L144.16 321.53 L143.50 321.17 L142.85 320.82 L142.21 320.46 L141.56 320.10 L140.91 319.73 L140.27 319.36 L139.63 318.98 L138.99 318.60 L138.35 318.22 L137.72 317.83 L137.09 317.44 L136.46 317.04 L135.83 316.64 L135.21 316.23 L134.59 315.82 L133.97 315.41 L133.35 314.99 L132.74 314.56 L132.13 314.14 L131.52 313.70 L130.92 313.26 L130.32 312.82 L129.72 312.37 L129.12 311.92 L128.53 311.46 L127.95 311.00 L127.36 310.53 L126.78 310.06 L126.20 309.58 L125.63 309.09 L125.06 308.60 L124.50 308.11 L123.93 307.61 L123.37 307.10 L122.82 306.59 L122.27 306.08 L121.72 305.55 L121.18 305.02 L120.64 304.49 L120.10 303.95 L119.57 303.40 L119.04 302.85 L118.52 302.29 L118.00 301.73 L117.48 301.16 L116.97 300.58 L116.46 300.00 L115.95 299.41 L115.45 298.81 L114.96 298.21 L114.46 297.60 L113.98 296.98 L113.49 296.36 L113.01 295.73 L112.53 295.09 L112.06 294.45 L111.59 293.80 L111.12 293.14 L110.66 292.47 L110.21 291.80 L109.75 291.12 L109.30 290.43 L108.86 289.73 L108.41 289.03 L107.98 288.32 L107.54 287.60 L107.11 286.87 L106.68 286.14 L106.26 285.39 L105.84 284.64 L105.43 283.88 L105.02 283.11 L104.61 282.34 L104.20 281.55 L103.80 280.76 L103.41 279.95 L103.01 279.14 L102.63 278.32 L102.24 277.49 L101.86 276.65 L101.48 275.80 L101.10 274.95 L100.73 274.08 L100.36 273.20 L100.00 272.32 L99.64 271.42 L99.28 270.51 L98.93 269.60 L98.58 268.67 L98.23 267.73 L97.89 266.79 L97.55 265.83 L97.21 264.86 L96.87 263.88 L96.54 262.89 L96.22 261.89 L95.89 260.88 L95.57 259.86 L95.25 258.82 L94.94 257.78 L94.63 256.72 L94.32 255.65 L94.01 254.57 L93.71 253.48 L93.41 252.37 L93.12 251.26 L92.82 250.13 L92.53 248.99 L92.25 247.83 L91.96 246.66 L91.68 245.48 L91.40 244.29 L91.12 243.08 L90.85 241.86 L90.58 240.63 L90.31 239.38 L90.05 238.12 L89.79 236.85 L89.53 235.56 L89.27 234.26 L89.02 232.94 L88.77 231.61 L88.52 230.26 L88.27 228.90 L88.03 227.52 L87.78 226.13 L87.55 224.72 L87.31 223.30 L87.08 221.86 L86.84 220.41 L86.62 218.93 L86.39 217.45 L86.17 215.94 L85.94 214.42 L85.72 212.89 L85.51 211.33 L85.29 209.76 L85.08 208.17 L84.87 206.57 L84.66 204.94 L84.45 203.30 L84.25 201.64 L84.05 199.96 L83.85 198.26 L83.65 196.55 L83.46 194.81 L83.26 193.06 L83.07 191.29 L82.88 189.49 L82.70 187.68 L82.51 185.85 L82.33 183.99 L82.15 182.12 L81.97 180.23 L81.79 178.31 L81.61 176.37 L81.44 174.41 L81.27 172.43 L81.10 170.43 L80.93 168.41 L80.76 166.36 L80.60 164.29 L80.44 162.20 L80.27 160.09 L80.11 157.95 L79.96 155.79 L79.80 153.60 L79.65 151.39 L79.49 149.16 L79.34 146.90 L79.19 144.61 L79.05 142.30 L78.90 139.97 L78.75 137.61 L78.61 135.22 L78.47 132.80 L78.33 130.36 L78.19 127.90 L78.05 125.40 L77.92 122.88 L77.78 120.33 L77.65 117.75 L77.52 115.14 L77.39 112.51 L77.26 109.84 L77.13 107.15 L77.01 104.42 L76.88 101.67 L76.76 98.88 L76.64 96.07 L76.52 93.22 L76.40 90.34 L76.28 87.43 L76.17 84.49 L76.05 81.52 L75.94 78.51 L75.82 75.47 L75.71 72.39 L75.60 69.28 L75.49 66.14 L75.39 62.96 L75.28 59.75 L75.17 56.50 L75.07 53.21 L74.97 49.89 L74.86 46.53 L74.76 43.14 L74.66 39.71 L74.56 36.23 L74.47 32.73 L74.37 29.18 L74.27 25.59 L74.18 21.96 L74.08 18.30 L73.99 14.59 L73.90 10.84" stroke="#00ff00" stroke-dasharray="11.8 4.8"/>
<path d="M74.89 352.84 L74.99 352.83 L75.10 352.83 L75.20 352.82 L75.31 352.82 L75.41 352.81 L75.52 352.80 L75.63 352.80 L75.74 352.79 L75.85 352.79 L75.96 352.78 L76.08 352.78 L76.19 352.77 L76.31 352.76 L76.43 352.76 L76.54 352.75 L76.66 352.75 L76.79 352.74 L76.91 352.73 L77.03 352.73 L77.16 352.72 L77.28 352.72 L77.41 352.71 L77.54 352.70 L77.67 352.70 L77.80 352.69 L77.94 352.68 L78.07 352.68 L78.21 352.67 L78.34 352.66 L78.48 352.65 L78.62 352.65 L78.76 352.64 L78.91 352.63 L79.05 352.63 L79.20 352.62 L79.35 352.61 L79.50 352.60 L79.65 352.60 L79.80 352.59 L79.96 352.58 L80.11 352.57 L80.27 352.56 L80.43 352.56 L80.59 352.55 L80.75 352.54 L80.92 352.53 L81.08 352.52 L81.25 352.51 L81.42 352.50 L81.59 352.50 L81.76 352.49 L81.94 352.48 L82.11 352.47 L82.29 352.46 L82.47 352.45 L82.65 352.44 L82.84 352.43 L83.02 352.42 L83.21 352.41 L83.40 352.40 L83.59 352.39 L83.79 352.38 L83.98 352.37 L84.18 352.36 L84.38 352.35 L84.58 352.34 L84.78 352.33 L84.99 352.32 L85.19 352.31 L85.40 352.30 L85.62 352.29 L85.83 352.28 L86.04 352.26 L86.26 352.25 L86.48 352.24 L86.70 352.23 L86.93 352.22 L87.15 352.21 L87.38 352.19 L87.61 352.18 L87.85 352.17 L88.08 352.16 L88.32 352.14 L88.56 352.13 L88.80 352.12 L89.05 352.10 L89.29 352.09 L89.54 352.08 L89.79 352.06 L90.05 352.05 L90.30 352.04 L90.56 352.02 L90.82 352.01 L91.08 351.99 L91.35 351.98 L91.62 351.97 L91.89 351.95 L92.16 351.94 L92.43 351.92 L92.71 351.91 L92.99 351.89 L93.27 351.87 L93.56 351.86 L93.84 351.84 L94.13 351.83 L94.43 351.81 L94.72 351.79 L95.02 351.78 L95.32 351.76 L95.62 351.74 L95.92 351.73 L96.23 351.71 L96.54 351.69 L96.85 351.67 L97.17 351.65 L97.48 351.64 L97.80 351.62 L98.13 351.60 L98.45 351.58 L98.78 351.56 L99.11 351.54 L99.44 351.52 L99.77 351.50 L100.11 351.48 L100.45 351.46 L100.79 351.44 L101.13 351.42 L101.48 351.40 L101.83 351.38 L102.18 351.36 L102.53 351.34 L102.89 351.32 L103.25 351.29 L103.61 351.27 L103.97 351.25 L104.34 351.23 L104.70 351.20 L105.07 351.18 L105.45 351.16 L105.82 351.13 L106.20 351.11 L106.57 351.09 L106.95 351.06 L107.34 351.04 L107.72 351.01 L108.11 350.99 L108.49 350.96 L108.88 350.93 L109.28 350.91 L109.67 350.88 L110.06 350.86 L110.46 350.83 L110.86 350.80 L111.26 350.77 L111.66 350.75 L112.06 350.72 L112.47 350.69 L112.87 350.66 L113.28 350.63 L113.69 350.60 L114.10 350.57 L114.51 350.54 L114.92 350.51 L115.33 350.48 L115.74 350.45 L116.16 350.42 L116.57 350.38 L116.99 350.35 L117.40 350.32 L117.82 350.29 L118.23 350.25 L118.65 350.22 L119.07 350.19 L119.48 350.15 L119.90 350.12 L120.31 350.08 L120.73 350.04 L121.15 350.01 L121.56 349.97 L121.97 349.94 L122.39 349.90 L122.80 349.86 L123.21 349.82 L123.62 349.78 L124.03 349.75 L124.44 349.71 L124.84 349.67 L125.25 349.63 L125.65 349.59 L126.05 349.54 L126.45 349.50 L126.85 349.46 L127.24 349.42 L127.64 349.38 L128.02 349.33 L128.41 349.29 L128.80 349.24 L129.18 349.20 L129.55 349.15 L129.93 349.11 L130.30 349.06 L130.67 349.01 L131.03 348.97 L131.39 348.92 L131.74 348.87 L132.10 348.82 L132.44 348.77 L132.78 348.72 L133.12 348.67 L133.45 348.62 L133.78 348.57 L134.10 348.52 L134.42 348.46 L134.73 348.41 L135.04 348.35 L135.34 348.30 L135.63 348.24 L135.92 348.19 L136.20 348.13 L136.48 348.07 L136.75 348.02 L137.01 347.96 L137.27 347.90 L137.52 347.84 L137.76 347.78 L137.99 347.72 L138.22 347.66 L138.44 347.59 L138.65 347.53 L138.86 347.47 L139.05 347.40 L139.24 347.34 L139.43 347.27 L139.60 347.20 L139.76 347.14 L139.92 347.07 L140.07 347.00 L140.21 346.93 L140.34 346.86 L140.46 346.79 L140.58 346.72 L140.68 346.64 L140.78 346.57 L140.86 346.49 L140.94 346.42 L141.01 346.34 L141.07 346.27 L141.12 346.19 L141.17 346.11 L141.20 346.03 L141.22 345.95 L141.24 345.87 L141.24 345.79 L141.24 345.70 L141.23 345.62 L141.21 345.53 L141.18 345.45 L141.14 345.36 L141.09 345.27 L141.03 345.18 L140.96 345.09 L140.89 345.00 L140.80 344.91 L140.71 344.82 L140.60 344.73 L140.49 344.63 L140.37 344.53 L140.24 344.44 L140.11 344.34 L139.96 344.24 L139.80 344.14 L139.64 344.04 L139.47 343.94 L139.29 343.83 L139.11 343.73 L138.91 343.62 L138.71 343.51 L138.50 343.41 L138.28 343.30 L138.05 343.19 L137.82 343.07 L137.58 342.96 L137.33 342.85 L137.08 342.73 L136.82 342.61 L136.55 342.50 L136.28 342.38 L136.00 342.25 L135.71 342.13 L135.42 342.01 L135.12 341.88 L134.81 341.76 L134.50 341.63 L134.19 341.50 L133.87 341.37 L133.54 341.24 L133.21 341.10 L132.87 340.97 L132.53 340.83 L132.19 340.70 L131.84 340.56 L131.48 340.41 L131.12 340.27 L130.76 340.13 L130.39 339.98 L130.02 339.83 L129.65 339.69 L129.27 339.54 L128.89 339.38 L128.51 339.23 L128.13 339.07 L127.74 338.92 L127.35 338.76 L126.95 338.60 L126.56 338.43 L126.16 338.27 L125.76 338.10 L125.35 337.93 L124.95 337.76 L124.54 337.59 L124.14 337.42 L123.73 337.24 L123.32 337.06 L122.91 336.88 L122.49 336.70 L122.08 336.52 L121.67 336.33 L121.25 336.15 L120.84 335.96 L120.42 335.76 L120.01 335.57 L119.59 335.37 L119.17 335.17 L118.76 334.97 L118.34 334.77 L117.93 334.57 L117.51 334.36 L117.09 334.15 L116.68 333.94 L116.27 333.72 L115.85 333.51 L115.44 333.29 L115.03 333.07 L114.61 332.84 L114.20 332.62 L113.79 332.39 L113.39 332.16 L112.98 331.92 L112.57 331.68 L112.17 331.45 L111.77 331.20 L111.36 330.96 L110.96 330.71 L110.56 330.46 L110.17 330.21 L109.77 329.95 L109.38 329.69 L108.99 329.43 L108.60 329.17 L108.21 328.90 L107.82 328.63 L107.44 328.36 L107.05 328.08 L106.67 327.80 L106.29 327.52 L105.92 327.24 L105.54 326.95 L105.17 326.66 L104.80 326.36 L104.43 326.06 L104.07 325.76 L103.70 325.46 L103.34 325.15 L102.98 324.84 L102.63 324.52 L102.27 324.20 L101.92 323.88 L101.57 323.56 L101.22 323.23 L100.88 322.89 L100.54 322.56 L100.20 322.22 L99.86 321.87 L99.53 321.53 L99.19 321.17 L98.86 320.82 L98.53 320.46 L98.21 320.10 L97.89 319.73 L97.57 319.36 L97.25 318.98 L96.93 318.60 L96.62 318.22 L96.31 317.83 L96.00 317.44 L95.70 317.04 L95.40 316.64 L95.10 316.23 L94.80 315.82 L94.50 315.41 L94.21 314.99 L93.92 314.56 L93.63 314.14 L93.35 313.70 L93.06 313.26 L92.78 312.82 L92.51 312.37 L92.23 311.92 L91.96 311.46 L91.69 311.00 L91.42 310.53 L91.15 310.06 L90.89 309.58 L90.63 309.09 L90.37 308.60 L90.11 308.11 L89.86 307.61 L89.61 307.10 L89.36 306.59 L89.11 306.08 L88.86 305.55 L88.62 305.02 L88.38 304.49 L88.14 303.95 L87.91 303.40 L87.67 302.85 L87.44 302.29 L87.21 301.73 L86.99 301.16 L86.76 300.58 L86.54 300.00 L86.32 299.41 L86.10 298.81 L85.89 298.21 L85.67 297.60 L85.46 296.98 L85.25 296.36 L85.04 295.73 L84.84 295.09 L84.63 294.45 L84.43 293.80 L84.23 293.14 L84.03 292.47 L83.84 291.80 L83.64 291.12 L83.45 290.43 L83.26 289.73 L83.07 289.03 L82.89 288.32 L82.70 287.60 L82.52 286.87 L82.34 286.14 L82.16 285.39 L81.98 284.64 L81.81 283.88 L81.64 283.11 L81.46 282.34 L81.29 281.55 L81.13 280.76 L80.96 279.95 L80.79 279.14 L80.63 278.32 L80.47 277.49 L80.31 276.65 L80.15 275.80 L80.00 274.95 L79.84 274.08 L79.69 273.20 L79.54 272.32 L79.39 271.42 L79.24 270.51 L79.09 269.60 L78.95 268.67 L78.80 267.73 L78.66 266.79 L78.52 265.83 L78.38 264.86 L78.24 263.88 L78.11 262.89 L77.97 261.89 L77.84 260.88 L77.70 259.86 L77.57 258.82 L77.44 257.78 L77.32 256.72 L77.19 255.65 L77.06 254.57 L76.94 253.48 L76.82 252.37 L76.70 251.26 L76.58 250.13 L76.46 248.99 L76.34 247.83 L76.22 246.66 L76.11 245.48 L75.99 244.29 L75.88 243.08 L75.77 241.86 L75.66 240.63 L75.55 239.38 L75.44 238.12 L75.34 236.85 L75.23 235.56 L75.12 234.26 L75.02 232.94 L74.92 231.61 L74.82 230.26 L74.72 228.90 L74.62 227.52 L74.52 226.13 L74.42 224.72 L74.33 223.30 L74.23 221.86 L74.14 220.41 L74.05 218.93 L73.95 217.45 L73.86 215.94 L73.77 214.42 L73.68 212.89 L73.60 211.33 L73.51 209.76 L73.42 208.17 L73.34 206.57 L73.25 204.94 L73.17 203.30 L73.09 201.64 L73.01 199.96 L72.93 198.26 L72.85 196.55 L72.77 194.81 L72.69 193.06 L72.61 191.29 L72.53 189.49 L72.46 187.68 L72.38 185.85 L72.31 183.99 L72.24 182.12 L72.17 180.23 L72.09 178.31 L72.02 176.37 L71.95 174.41 L71.88 172.43 L71.81 170.43 L71.75 168.41 L71.68 166.36 L71.61 164.29 L71.55 162.20 L71.48 160.09 L71.42 157.95 L71.36 155.79 L71.29 153.60 L71.23 151.39 L71.17 149.16 L71.11 146.90 L71.05 144.61 L70.99 142.30 L70.93 139.97 L70.87 137.61 L70.81 135.22 L70.76 132.80 L70.70 130.36 L70.64 127.90 L70.59 125.40 L70.54 122.88 L70.48 120.33 L70.43 117.75 L70.38 115.14 L70.32 112.51 L70.27 109.84 L70.22 107.15 L70.17 104.42 L70.12 101.67 L70.07 98.88 L70.02 96.07 L69.97 93.22 L69.93 90.34 L69.88 87.43 L69.83 84.49 L69.79 81.52 L69.74 78.51 L69.69 75.47 L69.65 72.39 L69.61 69.28 L69.56 66.14 L69.52 62.96 L69.48 59.75 L69.43 56.50 L69.39 53.21 L69.35 49.89 L69.31 46.53 L69.27 43.14 L69.23 39.71 L69.19 36.23 L69.15 32.73 L69.11 29.18 L69.07 25.59 L69.03 21.96 L69.00 18.30 L68.96 14.59 L68.92 10.84" stroke="#ff8000" stroke-dasharray="5.5 4.9" stroke-dashoffset="0.80"/>
</g>
<path d="M92.59 353.30 v-4.00 M92.59 15.90 v4.00 M119.58 353.30 v-4.00 M119.58 15.90 v4.00 M146.58 353.30 v-4.00 M146.58 15.90 v4.00 M173.57 353.30 v-4.00 M173.57 15.90 v4.00 M200.56 353.30 v-7.00 M200.56 15.90 v7.00 M227.55 353.30 v-4.00 M227.55 15.90 v4.00 M254.54 353.30 v-4.00 M254.54 15.90 v4.00 M281.54 353.30 v-4.00 M281.54 15.90 v4.00 M308.53 353.30 v-4.00 M308.53 15.90 v4.00 M335.52 353.30 v-7.00 M335.52 15.90 v7.00 M362.51 353.30 v-4.00 M362.51 15.90 v4.00 M389.50 353.30 v-4.00 M389.50 15.90 v4.00 M416.50 353.30 v-4.00 M416.50 15.90 v4.00 M443.49 353.30 v-4.00 M443.49 15.90 v4.00 M470.48 353.30 v-7.00 M470.48 15.90 v7.00 M497.47 353.30 v-4.00 M497.47 15.90 v4.00 M524.46 353.30 v-4.00 M524.46 15.90 v4.00 M551.46 353.30 v-4.00 M551.46 15.90 v4.00 M578.45 353.30 v-4.00 M578.45 15.90 v4.00 M605.44 353.30 v-7.00 M605.44 15.90 v7.00 M632.43 353.30 v-4.00 M632.43 15.90 v4.00 M659.42 353.30 v-4.00 M659.42 15.90 v4.00 M686.42 353.30 v-4.00 M686.42 15.90 v4.00 M713.41 353.30 v-4.00 M713.41 15.90 v4.00 M65.60 336.43 h4.00 M740.40 336.43 h-4.00 M65.60 319.56 h4.00 M740.40 319.56 h-4.00 M65.60 302.69 h4.00 M740.40 302.69 h-4.00 M65.60 285.82 h4.00 M740.40 285.82 h-4.00 M65.60 268.95 h7.00 M740.40 268.95 h-7.00 M65.60 252.08 h4.00 M740.40 252.08 h-4.00 M65.60 235.21 h4.00 M740.40 235.21 h-4.00 M65.60 218.34 h4.00 M740.40 218.34 h-4.00 M65.60 201.47 h4.00 M740.40 201.47 h-4.00 M65.60 184.60 h7.00 M740.40 184.60 h-7.00 M65.60 167.73 h4.00 M740.40 167.73 h-4.00 M65.60 150.86 h4.00 M740.40 150.86 h-4.00 M65.60 133.99 h4.00 M740.40 133.99 h-4.00 M65.60 117.12 h4.00 M740.40 117.12 h-4.00 M65.60 100.25 h7.00 M740.40 100.25 h-7.00 M65.60 83.38 h4.00 M740.40 83.38 h-4.00 M65.60 66.51 h4.00 M740.40 66.51 h-4.00 M65.60 49.64 h4.00 M740.40 49.64 h-4.00 M65.60 32.77 h4.00 M740.40 32.77 h-4.00" stroke="#555" stroke-width="1" fill="none"/>
<rect x="65.60" y="15.90" width="674.80" height="337.40" fill="none" stroke="#666666" stroke-width="1.2"/>
<text x="65.50" y="384.8" font-size="25.5" text-anchor="middle">0</text>
<path transform="translate(193.76,385.10) scale(0.01245,-0.01245)" d="M806 0H524V1062Q370 917 161 848V1103Q271 1139 400 1239Q529 1339 577 1473H806Z" fill="#000"/>
<text x="335.42" y="384.8" font-size="25.5" text-anchor="middle">2</text>
<text x="470.38" y="384.8" font-size="25.5" text-anchor="middle">3</text>
<text x="605.34" y="384.8" font-size="25.5" text-anchor="middle">4</text>
<text x="740.30" y="384.8" font-size="25.5" text-anchor="middle">5</text>
<text x="59.6" y="362.70" font-size="25.5" text-anchor="end">0</text>
<path transform="translate(45.70,278.35) scale(0.01245,-0.01245)" d="M806 0H524V1062Q370 917 161 848V1103Q271 1139 400 1239Q529 1339 577 1473H806Z" fill="#000"/>
<text x="59.6" y="194.00" font-size="25.5" text-anchor="end">2</text>
<text x="59.6" y="109.65" font-size="25.5" text-anchor="end">3</text>
<text x="59.6" y="25.30" font-size="25.5" text-anchor="end">4</text>
<text x="403.5" y="430.9" font-size="22.8" font-style="italic" text-anchor="middle">τ</text>
<g transform="translate(25.5,194.5) rotate(-90)"><text x="0" y="0" font-size="25.5" font-style="italic">r</text></g><path d="M21.7 179.05H29.7V181.05H21.7ZM24.85 176.4H26.85V183.8H24.85Z" fill="#000"/>
<path d="M543.4 57.20 H626.4" stroke="#808080" stroke-width="3.4" fill="none"/>
<text transform="translate(639.12,65.65) scale(0.980,1)" font-size="26.0">P</text>
<path d="M656.4 55.70H667.8V58.30H656.4ZM656.4 60.70H667.8V63.30H656.4Z" fill="#000"/>
<text transform="translate(669.23,65.65) scale(0.980,1)" font-size="26.0">0</text>
<text transform="translate(682.77,65.65) scale(0.980,1)" font-size="26.0">.</text>
<text transform="translate(689.53,65.65) scale(0.980,1)" font-size="26.0">0</text>
<text transform="translate(703.51,65.65) scale(0.980,1)" font-size="26.0">5</text>
<path d="M543.4 102.50 H626.4" stroke="#ff0000" stroke-width="3.4" fill="none"/>
<text transform="translate(639.12,110.95) scale(0.980,1)" font-size="26.0">P</text>
<path d="M656.4 101.00H667.8V103.60H656.4ZM656.4 106.00H667.8V108.60H656.4Z" fill="#000"/>
<text transform="translate(669.23,110.95) scale(0.980,1)" font-size="26.0">0</text>
<text transform="translate(682.77,110.95) scale(0.980,1)" font-size="26.0">.</text>
<text transform="translate(689.76,110.95) scale(0.980,1)" font-size="26.0">5</text>
<path d="M543.4 147.70 H626.4" stroke="#0000ff" stroke-width="3.4" fill="none" stroke-dasharray="11.8 4.8"/>
<text transform="translate(639.12,156.15) scale(0.980,1)" font-size="26.0">P</text>
<path d="M656.4 146.20H667.8V148.80H656.4ZM656.4 151.20H667.8V153.80H656.4Z" fill="#000"/>
<path transform="translate(669.10,156.15) scale(0.01245,-0.01245)" d="M806 0H524V1062Q370 917 161 848V1103Q271 1139 400 1239Q529 1339 577 1473H806Z" fill="#000"/>
<path d="M543.4 193.00 H626.4" stroke="#00ff00" stroke-width="3.4" fill="none" stroke-dasharray="11.8 4.8"/>
<text transform="translate(639.12,201.45) scale(0.980,1)" font-size="26.0">P</text>
<path d="M656.4 191.50H667.8V194.10H656.4ZM656.4 196.50H667.8V199.10H656.4Z" fill="#000"/>
<text transform="translate(669.11,201.45) scale(0.980,1)" font-size="26.0">2</text>
<path d="M543.4 238.30 H626.4" stroke="#ff8000" stroke-width="3.4" fill="none" stroke-dasharray="5.5 4.9"/>
<text transform="translate(639.12,246.75) scale(0.980,1)" font-size="26.0">P</text>
<path d="M656.4 236.80H667.8V239.40H656.4ZM656.4 241.80H667.8V244.40H656.4Z" fill="#000"/>
<text transform="translate(669.36,246.75) scale(0.980,1)" font-size="26.0">5</text>
</svg></body></html>
